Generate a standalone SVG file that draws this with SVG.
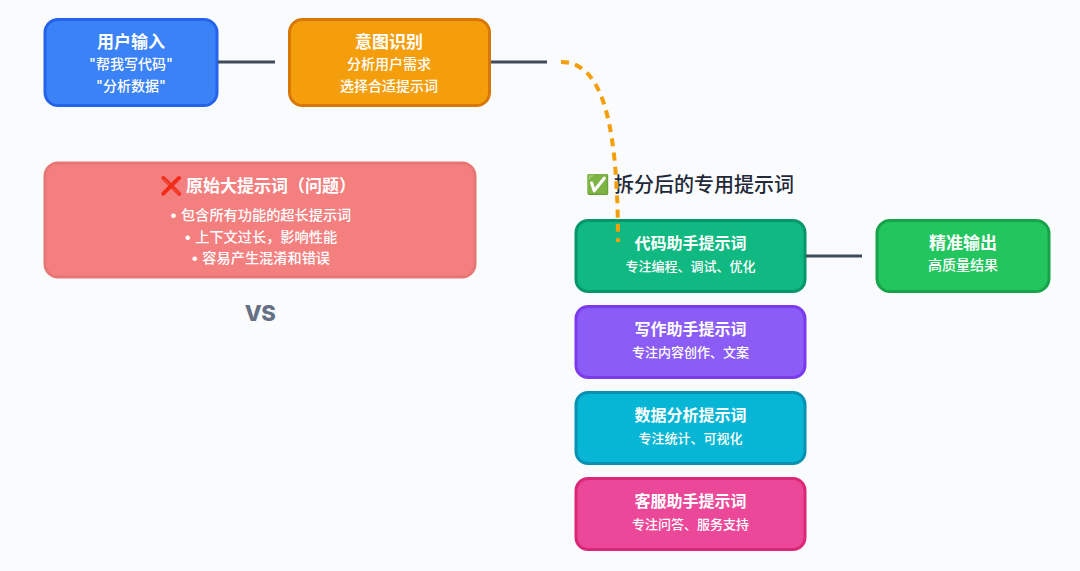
<svg xmlns="http://www.w3.org/2000/svg" width="1080" height="571" viewBox="0 0 1080 571">
<style>
text{font-family:"Inter","Noto Sans CJK SC",sans-serif;text-anchor:middle}
.box{stroke-width:3}
.t{fill:#fff;font-size:16px;font-weight:700}
.b{fill:#fff;font-size:17px;font-weight:700}
.s{fill:#fff;font-size:14px;font-weight:500}
.r{fill:#fff;font-size:14.200px;font-weight:500}
.x{fill:#fff;font-size:13px;font-weight:500}
.line{fill:none;stroke:#3f4a5a;stroke-width:3}
.dash{fill:none;stroke:#f59e0b;stroke-width:4;stroke-dasharray:8 6.300}
.emoji{font-family:"Noto Color Emoji","Noto Sans CJK SC",sans-serif}
</style>
<rect width="1080" height="571" fill="#fafbfd"/>
<g id="user-input"><rect class="box" x="45" y="19.500" width="172" height="86" rx="13" fill="#3b82f6" stroke="#2563eb"/><text class="b" x="131" y="48">用户输入</text><text class="s" x="131" y="69">"帮我写代码"</text><text class="s" x="131" y="91">"分析数据"</text></g>
<g id="intent"><rect class="box" x="289.500" y="19.500" width="200" height="86" rx="13" fill="#f59e0b" stroke="#d97706"/><text class="b" x="389" y="48">意图识别</text><text class="s" x="389" y="69">分析用户需求</text><text class="s" x="389" y="91">选择合适提示词</text></g>
<g id="big-prompt"><rect class="box" x="45" y="163" width="430" height="114" rx="13" fill="#f37f7f" stroke="#e87676"/><text class="emoji" x="172" y="192" font-size="18" style="filter:saturate(1.6) brightness(.95)">❌</text><text class="b" x="271" y="192">原始大提示词（问题）</text><text class="r" x="260.500" y="220">• 包含所有功能的超长提示词</text><text class="r" x="260.500" y="242">• 上下文过长，影响性能</text><text class="r" x="260.500" y="263">• 容易产生混淆和错误</text></g>
<g id="vs"><text x="260" y="321" font-size="22" font-weight="800" fill="#667085" letter-spacing="-0.5">VS</text></g>
<g id="split-title"><text class="emoji" x="598" y="191" font-size="19">✅</text><text x="704" y="192" font-size="20" font-weight="500" fill="#1f2937">拆分后的专用提示词</text></g>
<g id="code"><rect class="box" x="576" y="220.500" width="229" height="71" rx="12" fill="#10b981" stroke="#059669"/><text class="t" x="690.500" y="249">代码助手提示词</text><text class="x" x="690.500" y="271">专注编程、调试、优化</text></g>
<g id="write"><rect class="box" x="576" y="306.500" width="229" height="71" rx="12" fill="#8b5cf6" stroke="#7c3aed"/><text class="t" x="690.500" y="335">写作助手提示词</text><text class="x" x="690.500" y="357">专注内容创作、文案</text></g>
<g id="data"><rect class="box" x="576" y="392.500" width="229" height="71" rx="12" fill="#06b6d4" stroke="#0891b2"/><text class="t" x="690.500" y="421">数据分析提示词</text><text class="x" x="690.500" y="443">专注统计、可视化</text></g>
<g id="support"><rect class="box" x="576" y="478.500" width="229" height="71" rx="12" fill="#ec4899" stroke="#db2777"/><text class="t" x="690.500" y="507">客服助手提示词</text><text class="x" x="690.500" y="529">专注问答、服务支持</text></g>
<g id="output"><rect class="box" x="877" y="220.500" width="172" height="71" rx="13" fill="#22c55e" stroke="#16a34a"/><text class="b" x="963" y="249">精准输出</text><text class="s" x="963" y="270">高质量结果</text></g>
<g id="connectors">
<path class="line" d="M218 62H275"/>
<path class="line" d="M491 62H547"/>
<path class="line" d="M806 256H862"/>
<path class="dash" d="M561 62C600 62 618 115 618 242"/>
</g>
</svg>
